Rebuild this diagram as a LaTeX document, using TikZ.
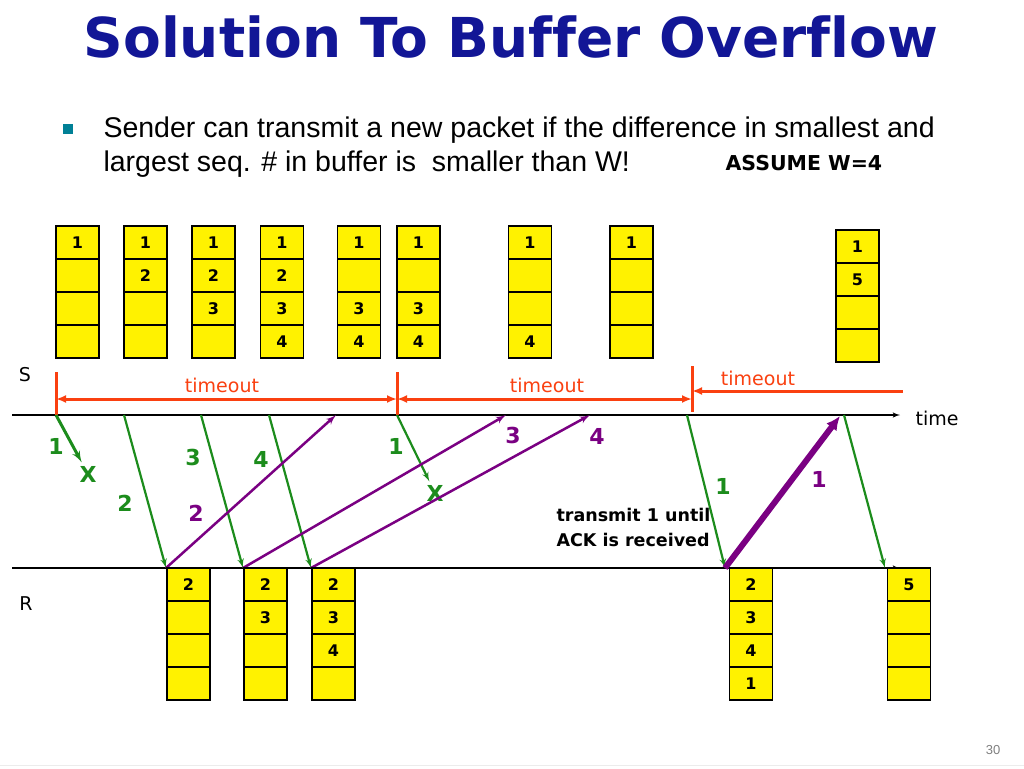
\documentclass[tikz,border=0pt]{standalone}
\usepackage{fontspec}
\setmainfont{DejaVu Sans}[Ligatures=NoCommon]
\newfontfamily\bodyfont{Liberation Sans}
\usepackage{tikz}
\usetikzlibrary{
  positioning,
  arrows.meta,
  arrows
}
\usepackage{xcolor}
\definecolor{titleblue}{RGB}{18,22,150}
\definecolor{bulletteal}{RGB}{0,128,150}
\definecolor{tored}{RGB}{250,64,16}
\definecolor{pktgreen}{RGB}{28,140,28}
\definecolor{ackpurple}{RGB}{122,0,130}

% one buffer = four stacked cells
\newcommand{\buffer}[6]{%
  \node[cell] (#1-1) at (#2) {#3};
  \node[cell,below=0pt of #1-1] (#1-2) {#4};
  \node[cell,below=0pt of #1-2] (#1-3) {#5};
  \node[cell,below=0pt of #1-3] (#1-4) {#6};
}

\begin{document}
\begin{tikzpicture}[x=1pt,y=-1pt,>=latex',font=\fontsize{19}{22}\selectfont,
    cell/.style={draw,fill=yellow,line width=1.8pt,minimum width=43pt,minimum height=33pt,
      inner sep=0pt,outer sep=0pt,font=\fontsize{16}{16}\selectfont\bfseries},
    pkt/.style={pktgreen,line width=2.2pt,->},
    ack/.style={ackpurple,line width=2.5pt,->},
    glabel/.style={pktgreen,font=\fontsize{22}{22}\selectfont\bfseries},
    plabel/.style={ackpurple,font=\fontsize{22}{22}\selectfont\bfseries},
    tomark/.style={tored,line width=3pt},
    tspan/.style={tored,line width=3pt,>={Latex[length=10pt,width=8pt]}},
    tlabel/.style={tored,font=\fontsize{19}{19}\selectfont}]
        \useasboundingbox (0,0) rectangle (1024,768);
        \fill[white] (0,0) rectangle (1024,768);
        \draw[gray!15,line width=1pt] (0,765) -- (1024,765);

        \node[text=titleblue,anchor=base,font=\fontsize{55}{60}\selectfont\bfseries] (title) at (511,57) {Solution To Buffer Overflow};
        \node[fill=bulletteal,minimum size=10pt,inner sep=0pt] (bul) at (68,129) {};
        \node[anchor=base west,font=\bodyfont\fontsize{28.5}{34}\selectfont] (line1) at (100,137) {Sender can transmit a new packet if the difference in smallest and};
        \node[anchor=base west,font=\bodyfont\fontsize{28.5}{34}\selectfont] (line2) at (100,171) {largest seq. \# in buffer is \ smaller than W!};
        \node[anchor=base west,font=\fontsize{20.5}{22}\selectfont\bfseries] (assume) at (722,170) {ASSUME W=4};

        % time lines
        \coordinate (sl) at (12,415);
        \coordinate (sr) at (900,415);
        \coordinate (rl) at (12,568);
        \coordinate (rr) at (900,568);
        \draw[->,line width=1.5pt] (sl) -- (sr);
        \draw[->,line width=1.5pt] (rl) -- (rr);
        \node (time) at (937,418) {time};
        \node (S) at (25,375) {S};
        \node (R) at (26,604) {R};

        % timeouts
        \draw[tomark] (56,372) -- (56,415);
        \draw[tomark] (397,372) -- (397,415);
        \draw[tomark] (692,366) -- (692,412);
        \coordinate (t1) at (56,399);
        \coordinate (t2) at (397,399);
        \coordinate (t3) at (692,399);
        \coordinate (t3b) at (692,391);
        \coordinate (t4) at (903,391);
        \draw[tspan,<->] (t1) -- (t2);
        \draw[tspan,<->] (t2) -- (t3);
        \draw[tspan,<-] (t3b) -- (t4);
        \node[tlabel] (to1) at (222,385) {timeout};
        \node[tlabel] (to2) at (547,385) {timeout};
        \node[tlabel] (to3) at (758,378) {timeout};

        % packets and acks
        \coordinate (e1) at (56,415);
        \coordinate (e2) at (124,415);
        \coordinate (e3) at (201,415);
        \coordinate (e4) at (269,415);
        \coordinate (e5) at (397,415);
        \coordinate (e6) at (687,415);
        \coordinate (e7) at (844,415);
        \coordinate (a2) at (166,568);
        \coordinate (a3) at (243,568);
        \coordinate (a4) at (311,568);
        \coordinate (a6) at (725,568);
        \coordinate (a7) at (885,568);
        \coordinate (k2) at (336,415);
        \coordinate (k3) at (506,415);
        \coordinate (k4) at (590,415);
        \coordinate (k1) at (840,416);
        \node[glabel] (lost1) at (88,474) {X};
        \node[glabel] (lost2) at (435,493) {X};
        \draw[pkt,line width=3pt] (e1) -- (lost1);
        \draw[pkt] (e2) -- (a2);
        \draw[pkt] (e3) -- (a3);
        \draw[pkt] (e4) -- (a4);
        \draw[pkt] (e5) -- (lost2);
        \draw[pkt] (e6) -- (a6);
        \draw[pkt] (e7) -- (a7);
        \draw[ack] (a2) -- (k2);
        \draw[ack] (a3) -- (k3);
        \draw[ack] (a4) -- (k4);
        \draw[ackpurple,line width=6pt,-{Latex[length=14pt,width=13pt]}] (a6) -- (k1);

        \node[glabel] (g1) at (56,446) {1};
        \node[glabel] (g2) at (125,503) {2};
        \node[glabel] (g3) at (193,457) {3};
        \node[glabel] (g4) at (261,459) {4};
        \node[glabel] (g5) at (396,446) {1};
        \node[glabel] (g6) at (723,486) {1};
        \node[plabel] (p2) at (196,513) {2};
        \node[plabel] (p3) at (513,435) {3};
        \node[plabel] (p4) at (597,436) {4};
        \node[plabel] (p1) at (819,479) {1};
        \node[anchor=west,align=left,font=\fontsize{17.5}{25}\selectfont\bfseries] (note) at (553,527) {transmit 1 until\\ACK is received};

        % sender buffers
        \buffer{s1}{77.5,242.5}{1}{}{}{}
        \buffer{s2}{145.5,242.5}{1}{2}{}{}
        \buffer{s3}{213.5,242.5}{1}{2}{3}{}
        \buffer{s4}{282,242.5}{1}{2}{3}{4}
        \buffer{s5}{359,242.5}{1}{}{3}{4}
        \buffer{s6}{418.5,242.5}{1}{}{3}{4}
        \buffer{s7}{530,242.5}{1}{}{}{4}
        \buffer{s8}{631.5,242.5}{1}{}{}{}
        \buffer{s9}{857.5,246.5}{1}{5}{}{}
        % receiver buffers
        \buffer{r1}{188.5,584.5}{2}{}{}{}
        \buffer{r2}{265.5,584.5}{2}{3}{}{}
        \buffer{r3}{333.5,584.5}{2}{3}{4}{}
        \buffer{r4}{751,584.5}{2}{3}{4}{1}
        \buffer{r5}{909,584.5}{5}{}{}{}

        \node[text=gray,font=\bodyfont\fontsize{13}{13}\selectfont] (pageno) at (993,750) {30};
    \end{tikzpicture}
\end{document}
